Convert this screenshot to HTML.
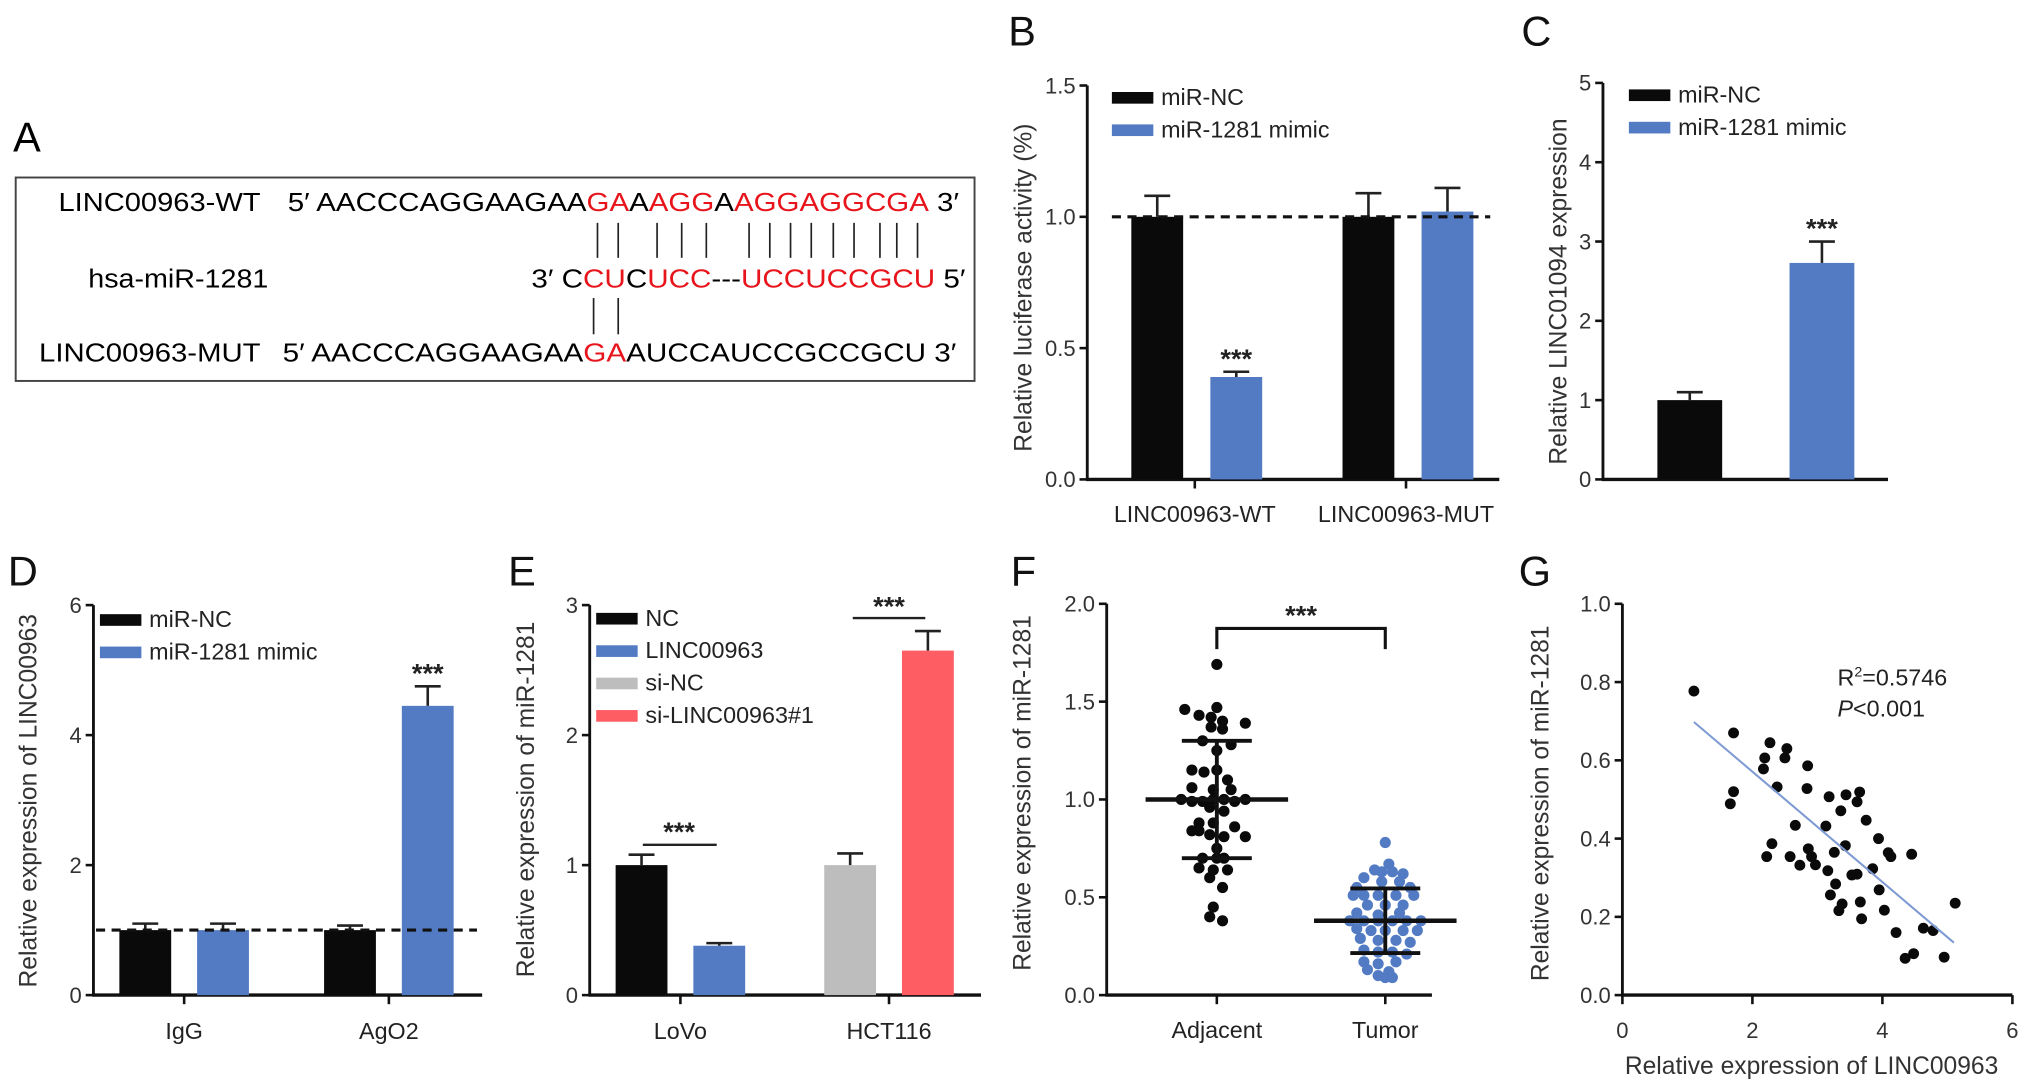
<!DOCTYPE html>
<html><head><meta charset="utf-8"><style>
html,body{margin:0;padding:0;background:#fff;}
svg{display:block;font-family:"Liberation Sans",Arial,sans-serif;}
</style></head><body>
<svg id="fig" width="2032" height="1091" viewBox="0 0 1568 842" xmlns="http://www.w3.org/2000/svg">
<g font-size="20">
<text x="10" y="117" font-size="32">A</text>
<rect x="12" y="137" width="740" height="157" fill="none" stroke="#444" stroke-width="1.5"/>
<text x="45" y="163" textLength="156" lengthAdjust="spacingAndGlyphs">LINC00963-WT</text>
<text x="222" y="163" textLength="518" lengthAdjust="spacingAndGlyphs">5′ AACCCAGGAAGAA<tspan fill="#e8141c">GA</tspan>A<tspan fill="#e8141c">AGG</tspan>A<tspan fill="#e8141c">AGGAGGCGA</tspan> 3′</text>
<text x="68" y="222" textLength="139" lengthAdjust="spacingAndGlyphs">hsa-miR-1281</text>
<text x="410" y="222" textLength="335" lengthAdjust="spacingAndGlyphs">3′ C<tspan fill="#e8141c">CU</tspan>C<tspan fill="#e8141c">UCC</tspan>---<tspan fill="#e8141c">UCCUCCGCU</tspan> 5′</text>
<text x="30" y="279" textLength="171" lengthAdjust="spacingAndGlyphs">LINC00963-MUT</text>
<text x="218" y="279" textLength="520" lengthAdjust="spacingAndGlyphs">5′ AACCCAGGAAGAA<tspan fill="#e8141c">GA</tspan>AUCCAUCCGCCGCU 3′</text>
<g id="pairs" stroke="#222" stroke-width="1.3"></g>
</g>
<g id="charts"></g>
</svg>
<script>
// ---- Panel B data
const bCats=["LINC00963-WT","LINC00963-MUT"];
const bNC=[1.0,1.0], bNCerr=[0.08,0.09];
const bMim=[0.39,1.02], bMimErr=[0.02,0.09];
const bTicks=["0.0","0.5","1.0","1.5"];
// ---- Panel C data
const cVals=[1.0,2.73], cErr=[0.1,0.27];
const cTicks=["0","1","2","3","4","5"];
// ---- Panel D data
const dCats=["IgG","AgO2"];
const dNC=[1.0,1.0], dNCerr=[0.1,0.07];
const dMim=[1.0,4.45], dMimErr=[0.1,0.3];
const dTicks=["0","2","4","6"];
// ---- Panel E data
const eCats=["LoVo","HCT116"];
const eA=[1.0,1.0], eAerr=[0.08,0.09];
const eB=[0.38,2.65], eBerr=[0.02,0.15];
const eTicks=["0","1","2","3"];
// ---- Panel F data
const fAdj=[1.69,1.46,1.47,1.43,1.42,1.40,1.39,1.37,1.36,1.30,1.28,1.25,1.15,1.14,1.15,1.10,1.06,1.05,1.05,1.00,0.99,0.99,1.00,1.00,0.99,1.00,0.96,0.94,0.88,0.88,0.86,0.84,0.84,0.82,0.81,0.81,0.75,0.70,0.70,0.70,0.65,0.64,0.64,0.60,0.55,0.45,0.40,0.38];
const fAdjJit=[0,-45,0,-25,-8,8,40,-8,8,-20,20,0,-35,-18,0,15,-35,-5,20,-50,-35,-20,-5,10,25,40,-10,10,-25,-5,25,-35,-25,-10,10,40,0,-20,0,10,-25,-5,15,-10,8,-5,-10,8];
const fTum=[0.78,0.67,0.64,0.63,0.63,0.62,0.60,0.58,0.58,0.55,0.55,0.51,0.51,0.51,0.51,0.51,0.46,0.46,0.46,0.42,0.41,0.42,0.38,0.38,0.38,0.38,0.38,0.38,0.34,0.33,0.33,0.33,0.33,0.29,0.28,0.28,0.27,0.23,0.22,0.22,0.21,0.17,0.16,0.17,0.13,0.12,0.10,0.09,0.09];
const fTumJit=[0,5,-15,-5,10,25,-30,-5,20,-40,35,-45,-30,-10,15,40,-25,0,25,-40,-10,20,-50,-30,-10,10,30,50,-40,-20,0,25,45,-35,-10,15,35,-30,-10,10,30,-30,-10,15,-25,5,-10,0,10];
const fMean=[1.0,0.38], fSD=[0.30,0.165];
const fTicks=["0.0","0.5","1.0","1.5","2.0"];
// ---- Panel G data
const gX=[1.10,1.71,1.71,1.66,2.27,2.19,2.17,2.53,2.50,2.38,2.85,2.84,2.66,2.30,2.22,2.58,2.73,2.86,2.91,2.97,3.18,3.44,3.65,3.61,3.36,3.75,3.13,3.26,3.43,3.16,3.28,3.53,3.61,3.85,3.94,4.09,4.13,4.45,3.20,3.38,3.33,3.66,3.68,3.95,4.03,4.21,4.63,4.78,5.12,4.35,4.48,4.95];
const gY=[0.777,0.670,0.520,0.489,0.645,0.606,0.578,0.630,0.606,0.532,0.586,0.528,0.434,0.387,0.354,0.354,0.332,0.374,0.354,0.333,0.507,0.512,0.519,0.494,0.471,0.447,0.432,0.365,0.382,0.318,0.284,0.307,0.309,0.323,0.400,0.364,0.354,0.360,0.256,0.233,0.216,0.238,0.195,0.269,0.217,0.160,0.171,0.165,0.235,0.094,0.106,0.097];
const gFit=[0.853,-0.141], gFitRange=[1.1,5.1];
const gXTicks=["0","2","4","6"], gYTicks=["0.0","0.2","0.4","0.6","0.8","1.0"];

const NS="http://www.w3.org/2000/svg";
const root=document.getElementById('charts');
function mk(tag,attrs,parent,txt){const e=document.createElementNS(NS,tag);for(const k in attrs)e.setAttribute(k,attrs[k]);if(txt!==undefined)e.textContent=txt;(parent||root).appendChild(e);return e;}
const BLACK="#0a0a0a", BLUE="#537bc4", GRAY="#bdbdbd", RED="#fd5d63";

const pg=document.getElementById('pairs');
[461,477,507,526,545,578,594,610,626,643,659,679,692,708].forEach(x=>{mk('line',{x1:x,x2:x,y1:172,y2:199},pg);});
[458,477].forEach(x=>{mk('line',{x1:x,x2:x,y1:230,y2:258},pg);});

function axes(g,ax){
  const ys=v=>ax.yBot-(v/ax.ymax)*(ax.yBot-ax.yTop);
  const yl=mk('line',{x1:ax.x0,x2:ax.x0,y1:ax.yTop,y2:ax.yBot,stroke:"#111","stroke-width":2.2},g);
  
  const xl=mk('line',{x1:ax.x0-1,x2:ax.x1,y1:ax.yBot,y2:ax.yBot,stroke:"#111","stroke-width":2.6},g);
  
  const n=ax.ticks.length;
  ax.ticks.forEach((t,i)=>{const v=ax.ymax*i/(n-1);const y=ys(v);
    mk('line',{x1:ax.x0-6,x2:ax.x0,y1:y,y2:y,stroke:"#111","stroke-width":2},g);
    const tx=mk('text',{x:ax.x0-9,y:y+6,"text-anchor":"end","font-size":17,fill:"#333"},g,t);
    });
  const lb=mk('text',{transform:`translate(${ax.labelX},${ax.labelY}) rotate(-90)`,"text-anchor":"middle","font-size":19,fill:"#333"},g,ax.label);
  
  return ys;
}
function bar(g,x,w,v,err,ys,color,name){
  const y=ys(v),y0=ys(0);
  const r=mk('rect',{x:x,y:y,width:w,height:y0-y,fill:color},g);
  
  const ye=ys(v+err),cx=x+w/2;
  mk('line',{x1:cx,x2:cx,y1:y,y2:ye,stroke:"#222","stroke-width":2},g);
  mk('line',{x1:cx-10,x2:cx+10,y1:ye,y2:ye,stroke:"#222","stroke-width":2},g);
}
function legend(g,x,y,items){
  items.forEach((it,i)=>{const yy=y+i*25;
    mk('rect',{x:x,y:yy-4,width:32,height:9,fill:it[1]},g);
    const t=mk('text',{x:x+38,y:yy+6,"font-size":18,fill:"#222"},g,it[0]);
    });
}
function stars(g,x,y){const t=mk('text',{x:x,y:y+3,"text-anchor":"middle","font-size":21,"font-weight":"bold",fill:"#222"},g,"***");}
function catLabel(g,x,y,txt,tickY){mk('line',{x1:x,x2:x,y1:tickY,y2:tickY+7,stroke:"#111","stroke-width":2},g);
  const t=mk('text',{x:x,y:y,"text-anchor":"middle","font-size":18,fill:"#222"},g,txt);}
function panelLabel(x,y,t){const e=mk('text',{x:x,y:y,"font-size":32,fill:"#111"},root,t);}
function dashed(g,x1,x2,y){mk('line',{x1:x1,x2:x2,y1:y,y2:y,stroke:"#111","stroke-width":2.4,"stroke-dasharray":"7,5"},g);}

// ---- B
panelLabel(778,35,"B");
{const g=mk('g',{});
 const ys=axes(g,{x0:839,x1:1157,yTop:66,yBot:370,ticks:bTicks,ymax:1.5,label:"Relative luciferase activity (%)",labelX:796,labelY:222});
 const cx=[922,1085];
 bCats.forEach((c,i)=>{bar(g,cx[i]-49,40,bNC[i],bNCerr[i],ys,BLACK,'bar-mir-nc');bar(g,cx[i]+12,40,bMim[i],bMimErr[i],ys,BLUE,'bar-mir-1281');catLabel(g,cx[i],403,c,370);});
 dashed(g,858,1150,ys(1));
 stars(g,cx[0]+32,ys(bMim[0]+bMimErr[0])-6);
 legend(g,858,75,[["miR-NC",BLACK],["miR-1281 mimic",BLUE]]);}
// ---- C
panelLabel(1174,35,"C");
{const g=mk('g',{});
 const ys=axes(g,{x0:1237,x1:1457,yTop:64,yBot:370,ticks:cTicks,ymax:5,label:"Relative LINC01094 expression",labelX:1209,labelY:225});
 bar(g,1279,50,cVals[0],cErr[0],ys,BLACK,'bar-mir-nc');
 bar(g,1381,50,cVals[1],cErr[1],ys,BLUE,'bar-mir-1281');
 stars(g,1406,ys(cVals[1]+cErr[1])-6);
 legend(g,1257,73,[["miR-NC",BLACK],["miR-1281 mimic",BLUE]]);}
// ---- D
panelLabel(6,452,"D");
{const g=mk('g',{});
 const ys=axes(g,{x0:72,x1:372,yTop:467,yBot:768,ticks:dTicks,ymax:6,label:"Relative expression of LINC00963",labelX:28,labelY:618});
 const cx=[142,300];
 dCats.forEach((c,i)=>{bar(g,cx[i]-50,40,dNC[i],dNCerr[i],ys,BLACK,'bar-mir-nc');bar(g,cx[i]+10,40,dMim[i],dMimErr[i],ys,BLUE,'bar-mir-1281');catLabel(g,cx[i],802,c,768);});
 dashed(g,74,368,ys(1));
 stars(g,cx[1]+30,ys(dMim[1]+dMimErr[1])-6);
 legend(g,77,478,[["miR-NC",BLACK],["miR-1281 mimic",BLUE]]);}
// ---- E
panelLabel(392,452,"E");
{const g=mk('g',{});
 const ys=axes(g,{x0:455,x1:757,yTop:467,yBot:768,ticks:eTicks,ymax:3,label:"Relative expression of miR-1281",labelX:412,labelY:617});
 const cx=[525,686];
 bar(g,cx[0]-50,40,eA[0],eAerr[0],ys,BLACK,'bar-nc');bar(g,cx[0]+10,40,eB[0],eBerr[0],ys,BLUE,'bar-linc00963');
 bar(g,cx[1]-50,40,eA[1],eAerr[1],ys,GRAY,'bar-si-nc');bar(g,cx[1]+10,40,eB[1],eBerr[1],ys,RED,'bar-si-linc00963');
 eCats.forEach((c,i)=>catLabel(g,cx[i],802,c,768));
 mk('line',{x1:496,x2:553,y1:652,y2:652,stroke:"#222","stroke-width":1.8},g);stars(g,524,646);
 mk('line',{x1:658,x2:714,y1:477,y2:477,stroke:"#222","stroke-width":1.8},g);stars(g,686,472);
 legend(g,460,477,[["NC",BLACK],["LINC00963",BLUE],["si-NC",GRAY],["si-LINC00963#1",RED]]);}
// ---- F
panelLabel(780,452,"F");
{const g=mk('g',{});
 const ys=axes(g,{x0:854,x1:1105,yTop:466,yBot:768,ticks:fTicks,ymax:2,label:"Relative expression of miR-1281",labelX:795,labelY:612});
 const cx=[939,1069];
 const groups=[[fAdj,fAdjJit,BLACK,'point-adjacent'],[fTum,fTumJit,BLUE,'point-tumor']];
 groups.forEach((gr,gi)=>{gr[0].forEach((v,i)=>{const c=mk('circle',{cx:cx[gi]+gr[1][i]*0.55,cy:ys(v),r:4.3,fill:gr[2]},g);});
   const m=ys(fMean[gi]),hi=ys(fMean[gi]+fSD[gi]),lo=ys(fMean[gi]-fSD[gi]);
   mk('line',{x1:cx[gi]-55,x2:cx[gi]+55,y1:m,y2:m,stroke:"#111","stroke-width":3.5},g);
   mk('line',{x1:cx[gi],x2:cx[gi],y1:hi,y2:lo,stroke:"#111","stroke-width":3},g);
   mk('line',{x1:cx[gi]-27,x2:cx[gi]+27,y1:hi,y2:hi,stroke:"#111","stroke-width":3},g);
   mk('line',{x1:cx[gi]-27,x2:cx[gi]+27,y1:lo,y2:lo,stroke:"#111","stroke-width":3},g);});
 catLabel(g,cx[0],801,"Adjacent",768);catLabel(g,cx[1],801,"Tumor",768);
 mk('polyline',{points:`${cx[0]},501 ${cx[0]},485 ${cx[1]},485 ${cx[1]},501`,fill:"none",stroke:"#111","stroke-width":2.4},g);
 stars(g,1004,479);}
// ---- G
panelLabel(1172,452,"G");
{const g=mk('g',{});
 const ys=axes(g,{x0:1252,x1:1553,yTop:466,yBot:768,ticks:gYTicks,ymax:1,label:"Relative expression of miR-1281",labelX:1195,labelY:620});
 const xs=v=>1252+v/6*301;
 gXTicks.forEach((t,i)=>{const x=xs(6*i/(gXTicks.length-1));mk('line',{x1:x,x2:x,y1:768,y2:775,stroke:"#111","stroke-width":2},g);
   const e=mk('text',{x:x,y:801,"text-anchor":"middle","font-size":17,fill:"#333"},g,t);});
 const xt=mk('text',{x:1398,y:829,"text-anchor":"middle","font-size":19,fill:"#333"},g,"Relative expression of LINC00963");
 gX.forEach((v,i)=>{const c=mk('circle',{cx:xs(v),cy:ys(gY[i]),r:4.2,fill:BLACK},g);});
 const f=x=>gFit[0]+gFit[1]*x;
 const rl=mk('line',{x1:xs(gFitRange[0]),y1:ys(f(gFitRange[0])),x2:xs(gFitRange[1]),y2:ys(f(gFitRange[1])),stroke:"#7f9bd3","stroke-width":1.6},g);
 
 const r2=mk('text',{x:1418,y:529,"font-size":18,fill:"#222"},g);
 r2.innerHTML='R<tspan dy="-7" font-size="11">2</tspan><tspan dy="7">=0.5746</tspan>';
 const pv=mk('text',{x:1418,y:553,"font-size":18,fill:"#222"},g);
 pv.innerHTML='<tspan font-style="italic">P</tspan>&lt;0.001';}
</script>
</body></html>
